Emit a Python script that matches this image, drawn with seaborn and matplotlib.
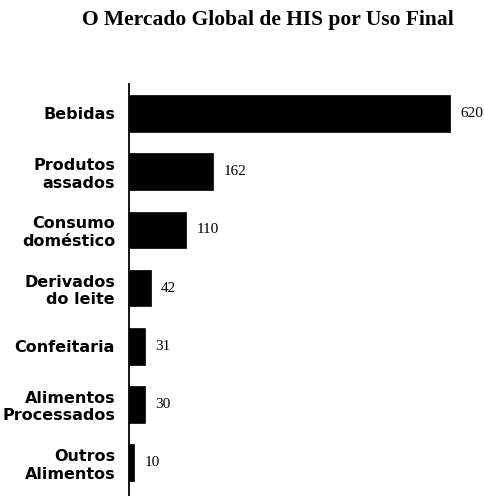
import matplotlib
matplotlib.use("Agg")
import matplotlib.pyplot as plt
import seaborn as sns
import pandas as pd

categories = [
    "Bebidas",
    "Produtos\nassados",
    "Consumo\ndoméstico",
    "Derivados\ndo leite",
    "Confeitaria",
    "Alimentos\nProcessados",
    "Outros\nAlimentos",
]
values = [620, 162, 110, 42, 31, 30, 10]
title = "O Mercado Global de HIS por Uso Final"

df = pd.DataFrame({"uso": categories, "valor": values})

sns.set_theme(style="white")
plt.rcParams["font.family"] = ["DejaVu Sans"]
plt.rcParams["text.color"] = "black"

W, H = 484, 496
fig = plt.figure(figsize=(W / 100, H / 100), dpi=100)
ax_left, ax_top = 129, 84
ax_w = 331
ax = fig.add_axes([ax_left / W, 0, ax_w / W, 1 - ax_top / H])

sns.barplot(data=df, x="valor", y="uso", orient="h", color="black",
            width=0.63, saturation=1, edgecolor="black", linewidth=0.5, ax=ax)

ax.set_xlim(0, 640)
ax.set_ylim(6.57, -0.506)
ax.set_xlabel("")
ax.set_ylabel("")
ax.set_xticks([])
for s in ["top", "right", "bottom"]:
    ax.spines[s].set_visible(False)
ax.spines["left"].set_color("black")
ax.spines["left"].set_linewidth(1.3)

ax.tick_params(axis="y", length=0, pad=10)
for lbl in ax.get_yticklabels():
    lbl.set_fontweight("bold")
    lbl.set_fontsize(11.5)
    lbl.set_color("black")
    lbl.set_horizontalalignment("right")
    lbl.set_multialignment("right")

for i, v in enumerate(values):
    ax.annotate(str(v), xy=(v, i), xytext=(7.5, 0), textcoords="offset points",
                va="center", ha="left", fontsize=11,
                family="Liberation Serif", color="black")

fig.text(268 / W, 1 - 20 / H, title, ha="center", va="center",
         fontsize=15.5, fontweight="bold", family="Liberation Serif",
         color="black")

fig.savefig("out.png", dpi=100, facecolor="white")
